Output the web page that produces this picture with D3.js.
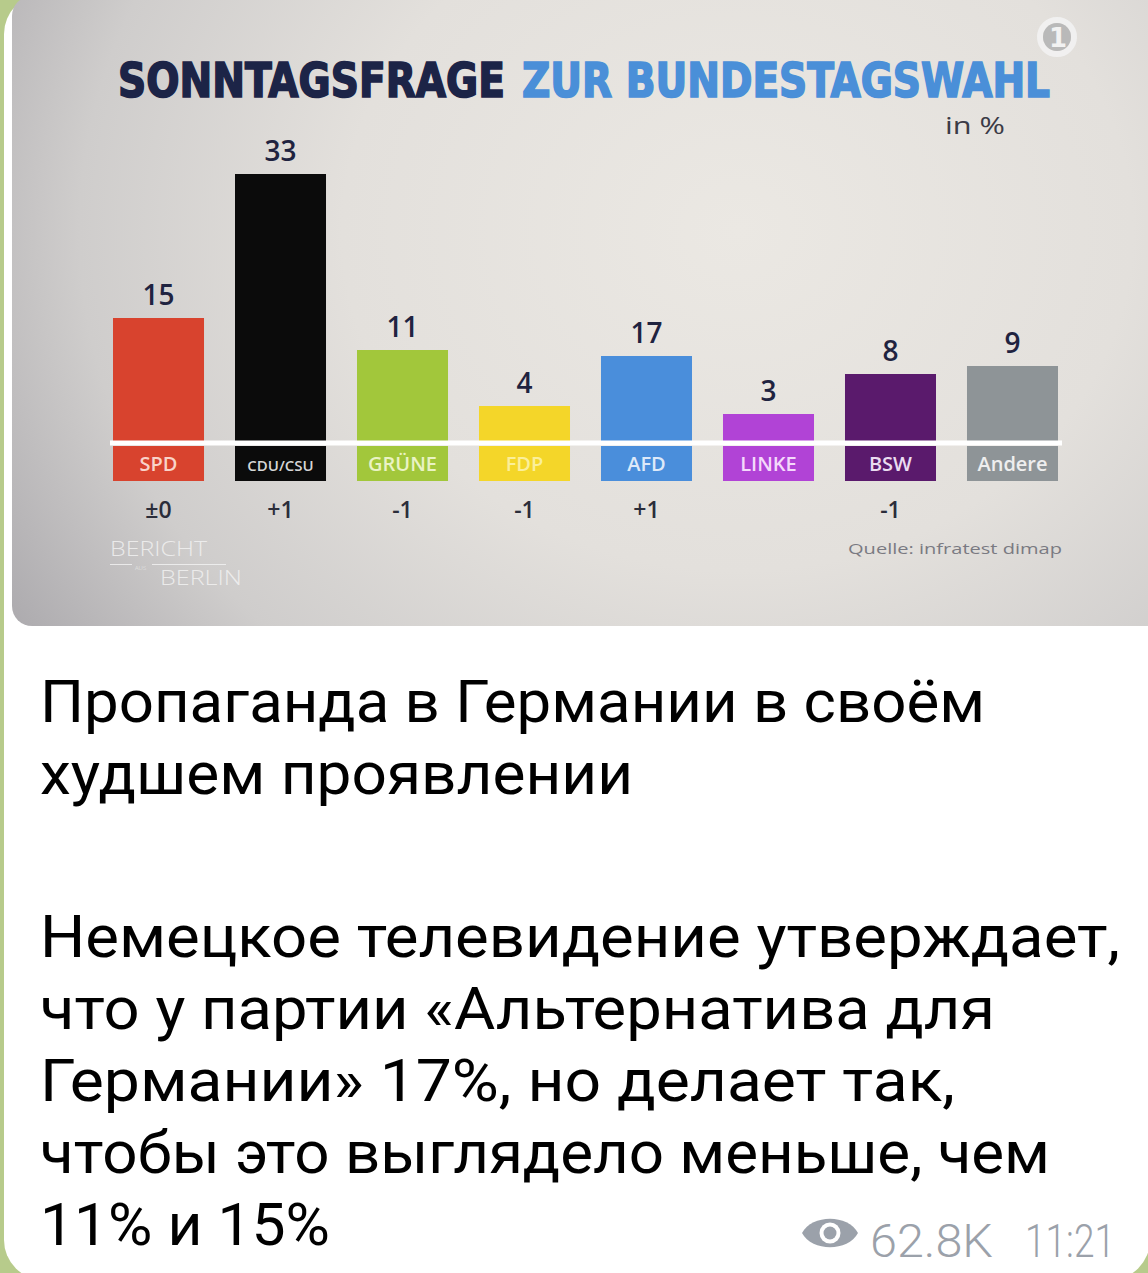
<!DOCTYPE html>
<html>
<head>
<meta charset="utf-8">
<script src="https://cdn.jsdelivr.net/npm/d3@7"></script>
<style>
  html, body { margin: 0; padding: 0; background: #b7cb8b; }
  svg { display: block; }
</style>
</head>
<body>
<svg id="chart" width="1148" height="1273"></svg>
<script>
// ---- data ----
const parties = ["SPD", "CDU/CSU", "GRÜNE", "FDP", "AFD", "LINKE", "BSW", "Andere"];
const values = [15, 33, 11, 4, 17, 3, 8, 9];            // printed percentages
const drawnHeights = [15, 33, 11, 4, 10.25, 3, 8, 9];    // bar heights as drawn in the picture
const changes = ["±0", "+1", "-1", "-1", "+1", "", "-1", ""];
const partyColors = ["#d8432e", "#0b0b0b", "#a2c73b", "#f4d629", "#4a8edb", "#b143d6", "#5a1a6c", "#8e9497"];
const bandTextColors = ["#f9d3c9", "#d6d6d6", "#eaf3c4", "#fbef9a", "#dde9f9", "#f4d9fb", "#eadcf0", "#eeeeee"];
const titlePart1 = "SONNTAGSFRAGE";
const titlePart2 = "ZUR BUNDESTAGSWAHL";
const unitLabel = "in %";
const sourceLabel = "Quelle: infratest dimap";
const postLines = [
  "Пропаганда в Германии в своём",
  "худшем проявлении",
  "",
  "Немецкое телевидение утверждает,",
  "что у партии «Альтернатива для",
  "Германии» 17%, но делает так,",
  "чтобы это выглядело меньше, чем",
  "11% и 15%"
];
const views = "62.8K";
const timeLabel = "11:21";

// ---- drawing ----
const svg = d3.select("#chart");
const defs = svg.append("defs");

// page background (green) + white bubble
svg.append("rect").attr("width", 1148).attr("height", 1273).attr("fill", "#b7cb8b");
svg.append("rect").attr("x", 4).attr("y", -6).attr("width", 1146).attr("height", 1286)
  .attr("rx", 40).attr("fill", "#ffffff");

// image background
const grad = defs.append("radialGradient").attr("id", "bg")
  .attr("cx", "0.62").attr("cy", "0.42").attr("r", "0.75")
  .attr("gradientTransform", "translate(0,-0.3) scale(1,1.6)");
grad.append("stop").attr("offset", "0").attr("stop-color", "#ebe8e3");
grad.append("stop").attr("offset", "0.45").attr("stop-color", "#e3e0dc");
grad.append("stop").attr("offset", "0.75").attr("stop-color", "#cfcdcc");
grad.append("stop").attr("offset", "1").attr("stop-color", "#a9a7ab");

defs.append("clipPath").attr("id", "imgclip")
  .append("rect").attr("x", 12).attr("y", -4).attr("width", 1170).attr("height", 630).attr("rx", 20);

const img = svg.append("g").attr("clip-path", "url(#imgclip)");
img.append("rect").attr("x", 12).attr("y", -4).attr("width", 1170).attr("height", 630).attr("fill", "url(#bg)");

// scales
const x = d3.scaleBand().domain(parties).range([113, 1058]).paddingInner(0.254).paddingOuter(0);
const y = d3.scaleLinear().domain([0, 33]).range([438, 174]);
const color = d3.scaleOrdinal().domain(parties).range(partyColors);
const bandText = d3.scaleOrdinal().domain(parties).range(bandTextColors);
const baseY = 443;

const rows = parties.map((p, i) => ({ party: p, value: values[i], drawn: drawnHeights[i], change: changes[i] }));

// title
img.append("text").attr("x", 118).attr("y", 97)
  .attr("font-family", "DejaVu Sans Condensed, DejaVu Sans").attr("font-weight", "bold")
  .attr("font-size", 48).attr("fill", "#1c2447").attr("stroke", "#1c2447").attr("stroke-width", 1.6)
  .attr("textLength", 387).attr("lengthAdjust", "spacingAndGlyphs")
  .text(titlePart1);
img.append("text").attr("x", 522).attr("y", 97)
  .attr("font-family", "DejaVu Sans Condensed, DejaVu Sans").attr("font-weight", "bold")
  .attr("font-size", 48).attr("fill", "#4a8fd8").attr("stroke", "#4a8fd8").attr("stroke-width", 1.6)
  .attr("textLength", 528).attr("lengthAdjust", "spacingAndGlyphs")
  .text(titlePart2);

// unit
img.append("text").attr("x", 945).attr("y", 134)
  .attr("font-family", "Open Sans").attr("font-size", 24).attr("fill", "#3b3b46")
  .attr("textLength", 60).attr("lengthAdjust", "spacingAndGlyphs")
  .text(unitLabel);

// ARD logo
img.append("circle").attr("cx", 1057).attr("cy", 37).attr("r", 17).attr("fill", "none")
  .attr("stroke", "#f2f2f2").attr("stroke-width", 6).attr("opacity", 0.9);
img.append("circle").attr("cx", 1057).attr("cy", 37).attr("r", 14).attr("fill", "#b9b9b9");
img.append("text").attr("x", 1058).attr("y", 47).attr("text-anchor", "middle")
  .attr("font-family", "DejaVu Sans").attr("font-weight", "bold").attr("font-size", 26)
  .attr("fill", "#f2f2f2").text("1");

// bars (drawn from top down to below the white line)
img.selectAll("rect.bar").data(rows).join("rect").attr("class", "bar")
  .attr("x", d => x(d.party)).attr("width", x.bandwidth())
  .attr("y", d => y(d.drawn)).attr("height", d => baseY + 2 - y(d.drawn))
  .attr("fill", d => color(d.party));

// white baseline
img.append("rect").attr("x", 110).attr("y", baseY - 2.5).attr("width", 952).attr("height", 5)
  .attr("fill", "#ffffff");

// label bands
img.selectAll("rect.band").data(rows).join("rect").attr("class", "band")
  .attr("x", d => x(d.party)).attr("width", x.bandwidth())
  .attr("y", baseY + 3).attr("height", 35)
  .attr("fill", d => color(d.party));

img.selectAll("text.bandlabel").data(rows).join("text").attr("class", "bandlabel")
  .attr("x", d => x(d.party) + x.bandwidth() / 2).attr("y", 471)
  .attr("text-anchor", "middle")
  .attr("font-family", "Open Sans").attr("font-weight", 600)
  .attr("font-size", d => d.party === "CDU/CSU" ? 15 : 20)
  .attr("fill", d => bandText(d.party))
  .text(d => d.party);

// value labels
img.selectAll("text.value").data(rows).join("text").attr("class", "value")
  .attr("x", d => x(d.party) + x.bandwidth() / 2)
  .attr("y", d => y(d.drawn) - 13)
  .attr("text-anchor", "middle")
  .attr("font-family", "Open Sans").attr("font-weight", 600).attr("font-size", 28)
  .attr("fill", "#1f2340")
  .text(d => d.value);

// change labels
img.selectAll("text.change").data(rows).join("text").attr("class", "change")
  .attr("x", d => x(d.party) + x.bandwidth() / 2).attr("y", 518)
  .attr("text-anchor", "middle")
  .attr("font-family", "Open Sans").attr("font-weight", 600).attr("font-size", 23)
  .attr("fill", "#2b2d3a")
  .text(d => d.change);

// source
img.append("text").attr("x", 848).attr("y", 554)
  .attr("font-family", "Open Sans").attr("font-size", 15).attr("fill", "#7a7a82")
  .attr("textLength", 214).attr("lengthAdjust", "spacingAndGlyphs")
  .text(sourceLabel);

// "Bericht aus Berlin" logo
const logo = img.append("g").attr("fill", "#f4f4f4").attr("opacity", 0.8)
  .attr("font-family", "Open Sans").attr("font-weight", 300);
logo.append("text").attr("x", 110).attr("y", 556).attr("font-size", 21)
  .attr("textLength", 97).attr("lengthAdjust", "spacingAndGlyphs").text("BERICHT");
logo.append("rect").attr("x", 110).attr("y", 564).attr("width", 22).attr("height", 1);
logo.append("text").attr("x", 135).attr("y", 570).attr("font-size", 6).text("AUS");
logo.append("rect").attr("x", 152).attr("y", 564).attr("width", 74).attr("height", 1);
logo.append("text").attr("x", 160).attr("y", 585).attr("font-size", 21)
  .attr("textLength", 82).attr("lengthAdjust", "spacingAndGlyphs").text("BERLIN");

// post text
const lineTargets = [
  { w: 945, y: 722 },
  { w: 593, y: 794 },
  { w: 0, y: 866 },
  { w: 1080, y: 957 },
  { w: 955, y: 1029 },
  { w: 915, y: 1101 },
  { w: 1010, y: 1173 },
  { w: 290, y: 1245 }
];
svg.selectAll("text.post").data(postLines.map((t, i) => ({ t, ...lineTargets[i] })).filter(d => d.t))
  .join("text").attr("class", "post")
  .attr("x", 40).attr("y", d => d.y)
  .attr("font-family", "Roboto, Inter, sans-serif").attr("font-size", 60).attr("fill", "#000")
  .attr("textLength", d => d.w).attr("lengthAdjust", "spacingAndGlyphs")
  .text(d => d.t);

// meta: eye icon, views, time
const meta = svg.append("g").attr("fill", "#9ba1aa");
meta.append("path").attr("d", "M802,1233 C812,1214 848,1214 858,1233 C848,1252 812,1252 802,1233 Z");
meta.append("circle").attr("cx", 830).attr("cy", 1233).attr("r", 10.5).attr("fill", "#ffffff");
meta.append("circle").attr("cx", 830).attr("cy", 1233).attr("r", 6.5);
meta.append("text").attr("x", 870).attr("y", 1257)
  .attr("font-family", "Roboto, Inter, sans-serif").attr("font-weight", 300).attr("font-size", 46)
  .attr("textLength", 123).attr("lengthAdjust", "spacingAndGlyphs").text(views);
meta.append("text").attr("x", 1025).attr("y", 1257)
  .attr("font-family", "Roboto, Inter, sans-serif").attr("font-weight", 300).attr("font-size", 46)
  .attr("textLength", 90).attr("lengthAdjust", "spacingAndGlyphs").text(timeLabel);
</script>
</body>
</html>
